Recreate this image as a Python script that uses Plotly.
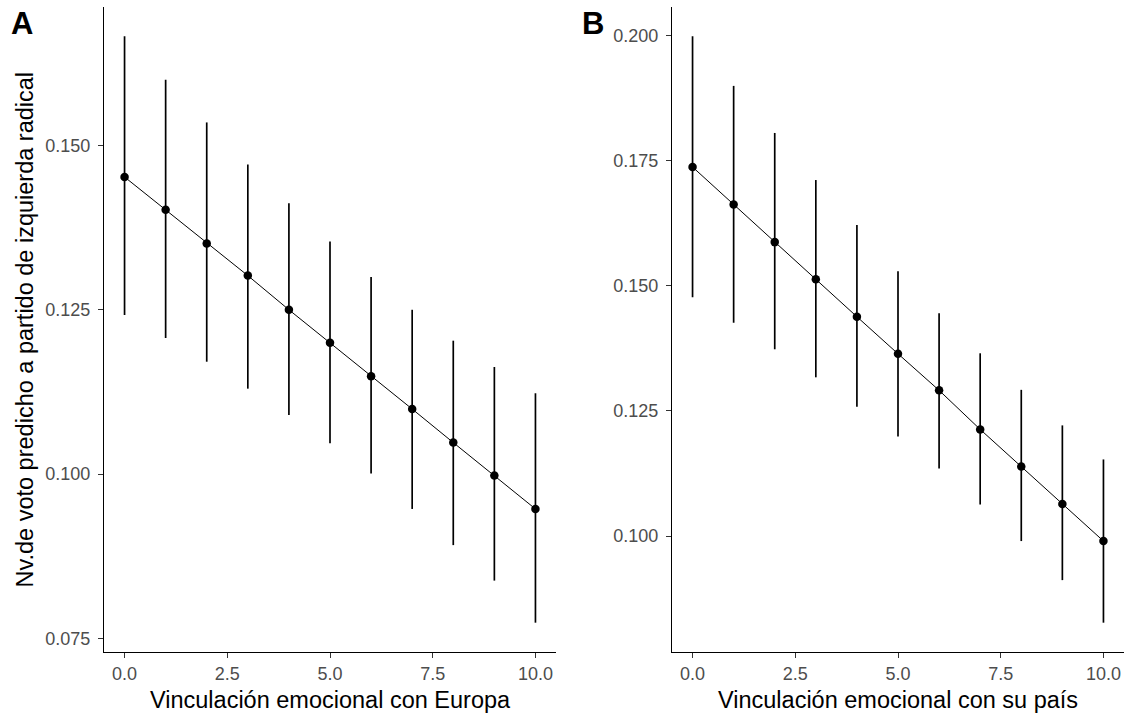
import plotly.graph_objects as go

# ---- data ----
x_vals = [0, 1, 2, 3, 4, 5, 6, 7, 8, 9, 10]

europa_fit = [0.1452, 0.1402, 0.1351, 0.1302, 0.1250, 0.1200, 0.1149, 0.1099, 0.1048, 0.0998, 0.0947]
europa_upper = [0.1666, 0.1600, 0.1535, 0.1471, 0.1412, 0.1354, 0.1300, 0.1250, 0.1203, 0.1163, 0.1123]
europa_lower = [0.1242, 0.1207, 0.1171, 0.1130, 0.1090, 0.1047, 0.1001, 0.0947, 0.0892, 0.0838, 0.0774]

pais_fit = [0.1737, 0.1662, 0.1587, 0.1513, 0.1438, 0.1364, 0.1291, 0.1213, 0.1139, 0.1064, 0.0990]
pais_upper = [0.1998, 0.1899, 0.1805, 0.1711, 0.1621, 0.1529, 0.1445, 0.1365, 0.1292, 0.1221, 0.1153]
pais_lower = [0.1477, 0.1426, 0.1373, 0.1317, 0.1258, 0.1199, 0.1135, 0.1063, 0.0990, 0.0912, 0.0827]

x_ticks = [0, 2.5, 5, 7.5, 10]
x_ticktext = ["0.0", "2.5", "5.0", "7.5", "10.0"]
ya_ticks = [0.075, 0.100, 0.125, 0.150]
yb_ticks = [0.100, 0.125, 0.150, 0.175, 0.200]

x_title_a = "Vinculación emocional con Europa"
x_title_b = "Vinculación emocional con su país"
y_title = "Nv.de voto predicho a partido de izquierda radical"

# ---- figure ----
W, H = 1131, 717
TOP, BOTTOM = 7, 652
FONT = "Liberation Sans, Arial, sans-serif"
TICK_SIZE = 18
TITLE_SIZE = 23.5
TAG_SIZE = 31


def expand(lo, hi, f=0.05):
    d = (hi - lo) * f
    return [lo - d, hi + d]


def make_trace(fit, upper, lower, xa, ya):
    return go.Scatter(
        x=x_vals, y=fit, xaxis=xa, yaxis=ya,
        mode="lines+markers",
        line=dict(color="black", width=1),
        marker=dict(color="black", size=8.5),
        error_y=dict(
            type="data", symmetric=False,
            array=[u - f for u, f in zip(upper, fit)],
            arrayminus=[f - l for f, l in zip(fit, lower)],
            color="black", thickness=1.7, width=0,
        ),
        showlegend=False, hoverinfo="x+y",
    )


fig = go.Figure()
fig.add_trace(make_trace(europa_fit, europa_upper, europa_lower, "x", "y"))
fig.add_trace(make_trace(pais_fit, pais_upper, pais_lower, "x2", "y2"))

axis_common = dict(
    showline=True, linecolor="black", linewidth=1.4,
    ticks="outside", ticklen=5, tickwidth=1.4, tickcolor="#333333",
    tickfont=dict(family=FONT, size=TICK_SIZE, color="#4D4D4D"),
    showgrid=False, zeroline=False, mirror=False,
)

fig.update_layout(
    width=W, height=H,
    margin=dict(l=0, r=0, t=TOP, b=H - BOTTOM),
    paper_bgcolor="white", plot_bgcolor="white",
    font=dict(family=FONT, color="black"),
    xaxis=dict(domain=[104 / W, 556 / W], range=[-0.5, 10.5], anchor="y",
               tickvals=x_ticks, ticktext=x_ticktext, **axis_common),
    yaxis=dict(domain=[0, 1], anchor="x",
               range=expand(min(europa_lower), max(europa_upper)),
               tickvals=ya_ticks, tickformat=".3f", ticklabelstandoff=4,
               **axis_common),
    xaxis2=dict(domain=[672 / W, 1124 / W], range=[-0.5, 10.5], anchor="y2",
                tickvals=x_ticks, ticktext=x_ticktext, **axis_common),
    yaxis2=dict(domain=[0, 1], anchor="x2",
                range=expand(min(pais_lower), max(pais_upper)),
                tickvals=yb_ticks, tickformat=".3f", ticklabelstandoff=4,
                **axis_common),
)


def py(p):
    return (BOTTOM - p) / (BOTTOM - TOP)


annotations = [
    dict(text="<b>A</b>", x=21.5 / W, y=py(23), xref="paper", yref="paper",
         xanchor="center", yanchor="middle", showarrow=False,
         font=dict(family=FONT, size=TAG_SIZE, color="black")),
    dict(text="<b>B</b>", x=593 / W, y=py(23), xref="paper", yref="paper",
         xanchor="center", yanchor="middle", showarrow=False,
         font=dict(family=FONT, size=TAG_SIZE, color="black")),
    dict(text=y_title, x=24 / W, y=py((TOP + BOTTOM) / 2), xref="paper", yref="paper",
         xanchor="center", yanchor="middle", textangle=-90, showarrow=False,
         font=dict(family=FONT, size=TITLE_SIZE, color="black")),
    dict(text=x_title_a, x=330 / W, y=py(700), xref="paper", yref="paper",
         xanchor="center", yanchor="middle", showarrow=False,
         font=dict(family=FONT, size=TITLE_SIZE, color="black")),
    dict(text=x_title_b, x=898 / W, y=py(700), xref="paper", yref="paper",
         xanchor="center", yanchor="middle", showarrow=False,
         font=dict(family=FONT, size=TITLE_SIZE, color="black")),
]
fig.update_layout(annotations=annotations)

fig.write_html("out.html", config={"displayModeBar": False},
               post_script="document.body.style.margin='0';")
